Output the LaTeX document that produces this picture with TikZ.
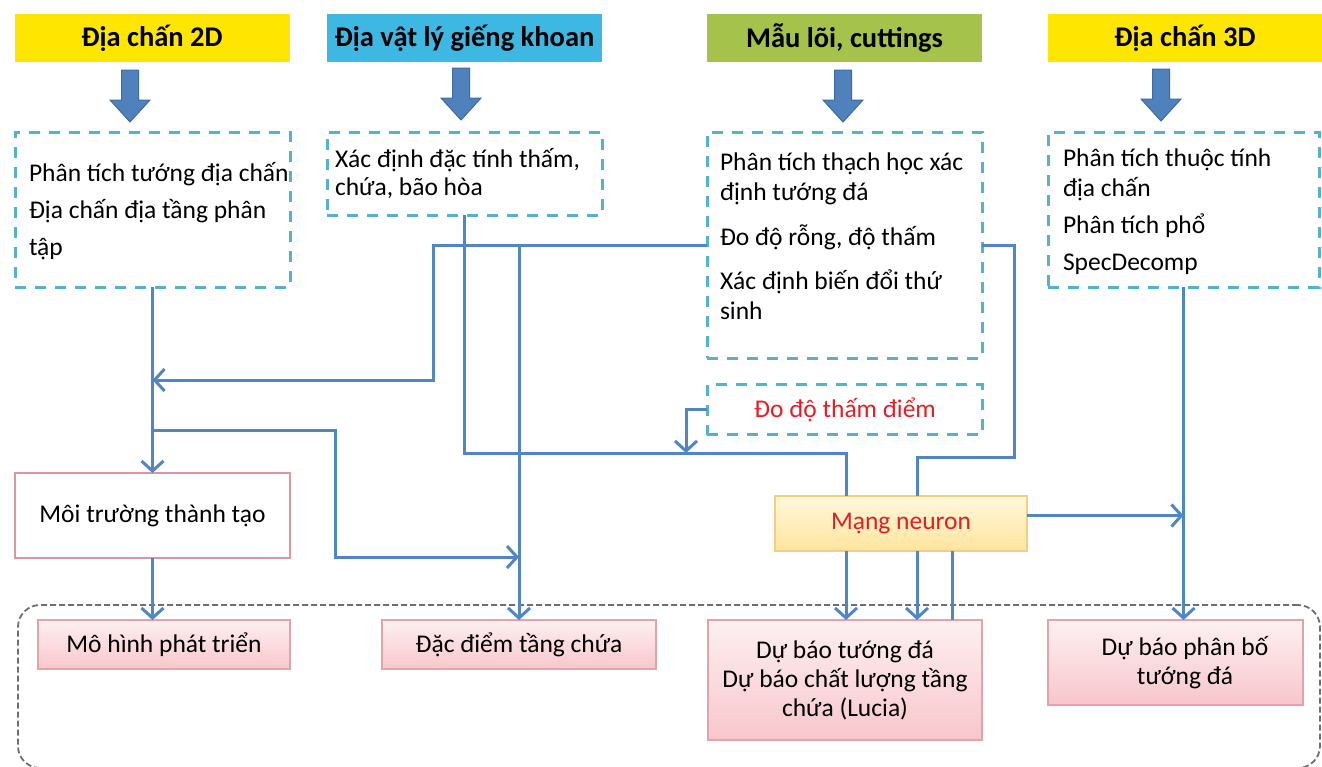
\documentclass[tikz,border=0pt]{standalone}
\usepackage{fontspec}
\setmainfont{Carlito}
\usetikzlibrary{arrows.meta}
\definecolor{hyellow}{HTML}{FFE600}
\definecolor{hcyan}{HTML}{3DB8E3}
\definecolor{hgreen}{HTML}{A5C24B}
\definecolor{barrow}{HTML}{4F81BD}
\definecolor{barrowd}{HTML}{3C6AA3}
\definecolor{connc}{HTML}{4F86C6}
\definecolor{dcyan}{HTML}{52B2CF}
\definecolor{pinkb}{HTML}{E3A3AA}
\definecolor{pinkt}{HTML}{FDF0F1}
\definecolor{pinkf}{HTML}{F8C6CC}
\definecolor{moib}{HTML}{D9979E}
\definecolor{redt}{HTML}{E31E24}
\definecolor{mangt}{HTML}{FFF8DC}
\definecolor{mangb}{HTML}{FFE49E}
\definecolor{mangd}{HTML}{F0CF7E}
\definecolor{grayd}{HTML}{6E6E6E}
\begin{document}
\begin{tikzpicture}[x=1pt,y=-1pt,
  every node/.style={inner sep=0pt, outer sep=0pt},
  body/.style={font=\fontsize{25.5}{29}\selectfont},
  header/.style={minimum width=275pt, minimum height=48pt, font=\fontsize{28.5}{32}\selectfont\bfseries},
  dbox/.style={draw=dcyan, line width=3pt, dash pattern=on 11pt off 9pt},
  btext/.style={anchor=west, align=left},
  conn/.style={draw=connc, line width=3pt},
  arr/.style={-{Straight Barb[length=10pt,width=22pt]}},
  rbox/.style={draw=pinkb, line width=1.5pt, top color=pinkt, bottom color=pinkf, body},
  bigdash/.style={draw=grayd, line width=1.8pt, dash pattern=on 6pt off 3pt, rounded corners=22pt},
  blockarr/.pic={\filldraw[fill=barrow, draw=barrowd, line width=1pt] (-8.5,-26) -- (8.5,-26) -- (8.5,4) -- (20,4) -- (0,26) -- (-20,4) -- (-8.5,4) -- cycle;}
]
\useasboundingbox (0,0) rectangle (1322,766);

% headers
\node[header, fill=hyellow] (h2d) at (152,38) {Địa chấn 2D};
\node[header, fill=hcyan] (hwell) at (464.5,38) {Địa vật lý giếng khoan};
\node[header, fill=hgreen] (hcore) at (844.5,38) {Mẫu lõi, cuttings};
\node[header, fill=hyellow] (h3d) at (1185,38) {Địa chấn 3D};

% block arrows
\pic at (130,96) {blockarr};
\pic at (461,94) {blockarr};
\pic at (843,96) {blockarr};
\pic at (1161,95) {blockarr};

% dashed boxes
\node[dbox, minimum width=275pt, minimum height=155pt] (d2d) at (152.5,209.5) {};
\node[dbox, minimum width=275pt, minimum height=83pt] (dwell) at (464.5,173.5) {};
\node[dbox, minimum width=275pt, minimum height=226pt] (dcore) at (844.5,245) {};
\node[dbox, minimum width=271pt, minimum height=155pt] (d3d) at (1183.5,209.5) {};
\node[dbox, minimum width=275pt, minimum height=50pt] (dpt) at (844.5,409.5) {};

\node[btext, font=\fontsize{25.5}{37}\selectfont] (t2d) at (29,211) {Phân tích tướng địa chấn\\Địa chấn địa tầng phân\\tập};
\node[btext, font=\fontsize{25.5}{28}\selectfont] (twell) at (335,174) {Xác định đặc tính thấm,\\chứa, bão hòa};
\node[btext, font=\fontsize{25.5}{30}\selectfont] (tcore) at (720,236) {Phân tích thạch học xác\\định tướng đá\\[15pt]Đo độ rỗng, độ thấm\\[14pt]Xác định biến đổi thứ\\sinh};
\node[btext, font=\fontsize{25.5}{30}\selectfont] (t3d) at (1063,212) {Phân tích thuộc tính\\địa chấn\\[7pt]Phân tích phổ\\[7pt]SpecDecomp};
\node[body, text=redt] (tpt) at (845,410) {Đo độ thấm điểm};

% middle boxes
\node[draw=moib, line width=2pt, fill=white, minimum width=275pt, minimum height=85pt, body] (moi) at (152.5,515.5) {Môi trường thành tạo};
\node[draw=mangd, line width=1.5pt, top color=mangt, bottom color=mangb, minimum width=252pt, minimum height=55pt, text=redt, body] (mang) at (901,523.5) {Mạng neuron};

% bottom group
\node[bigdash, minimum width=1302pt, minimum height=163pt] (grp) at (669,686.5) {};
\node[rbox, minimum width=252pt, minimum height=49pt] (mh) at (164,644.5) {Mô hình phát triển};
\node[rbox, minimum width=274pt, minimum height=49pt] (dac) at (519,644.5) {Đặc điểm tầng chứa};
\node[rbox, minimum width=274pt, minimum height=120pt, align=center] (dbt) at (845,680) {Dự báo tướng đá\\Dự báo chất lượng tầng\\chứa (Lucia)};
\node[rbox, minimum width=255pt, minimum height=85pt] (dpb) at (1175.5,662.5) {};
\node[body, align=center] (tpb) at (1185,663) {Dự báo phân bố\\tướng đá};

% junction coordinates
\coordinate (jA) at (433,380);
\coordinate (jB) at (152.5,430);
\coordinate (jC) at (335,557);
\coordinate (m1) at (846,453);
\coordinate (m2) at (686,453);
\coordinate (m3) at (1014,457);
\coordinate (m4) at (917,457);

% connectors
\draw[conn, arr] (d2d.south) -- (moi.north);
\draw[conn, arr] (moi.south) -- (moi.south |- mh.north);
\draw[conn, arr] (dcore.west) -| (jA) -- (jA -| d2d.south);
\draw[conn, arr] (jB) -| (jC) -- (jC -| dac.north);
\draw[conn, arr] (dac.north |- dcore.west) -- (dac.north);
\draw[conn] (dwell.south) |- (m1) -- (m1 |- mang.north);
\draw[conn, arr] (dpt.west) -| (m2);
\draw[conn] (dcore.east) -| (m3) -- (m4) -- (m4 |- mang.north);
\draw[conn, arr] (m1 |- mang.south) -- (m1 |- dbt.north);
\draw[conn, arr] (m4 |- mang.south) -- (m4 |- dbt.north);
\draw[conn] ([xshift=51pt]mang.south) -- ([xshift=51pt]mang.south |- dbt.north);
\draw[conn, arr] ([yshift=8pt]mang.east) -- ([yshift=8pt]mang.east -| d3d.south);
\draw[conn, arr] (d3d.south) -- (d3d.south |- dpb.north);
\end{tikzpicture}
\end{document}
